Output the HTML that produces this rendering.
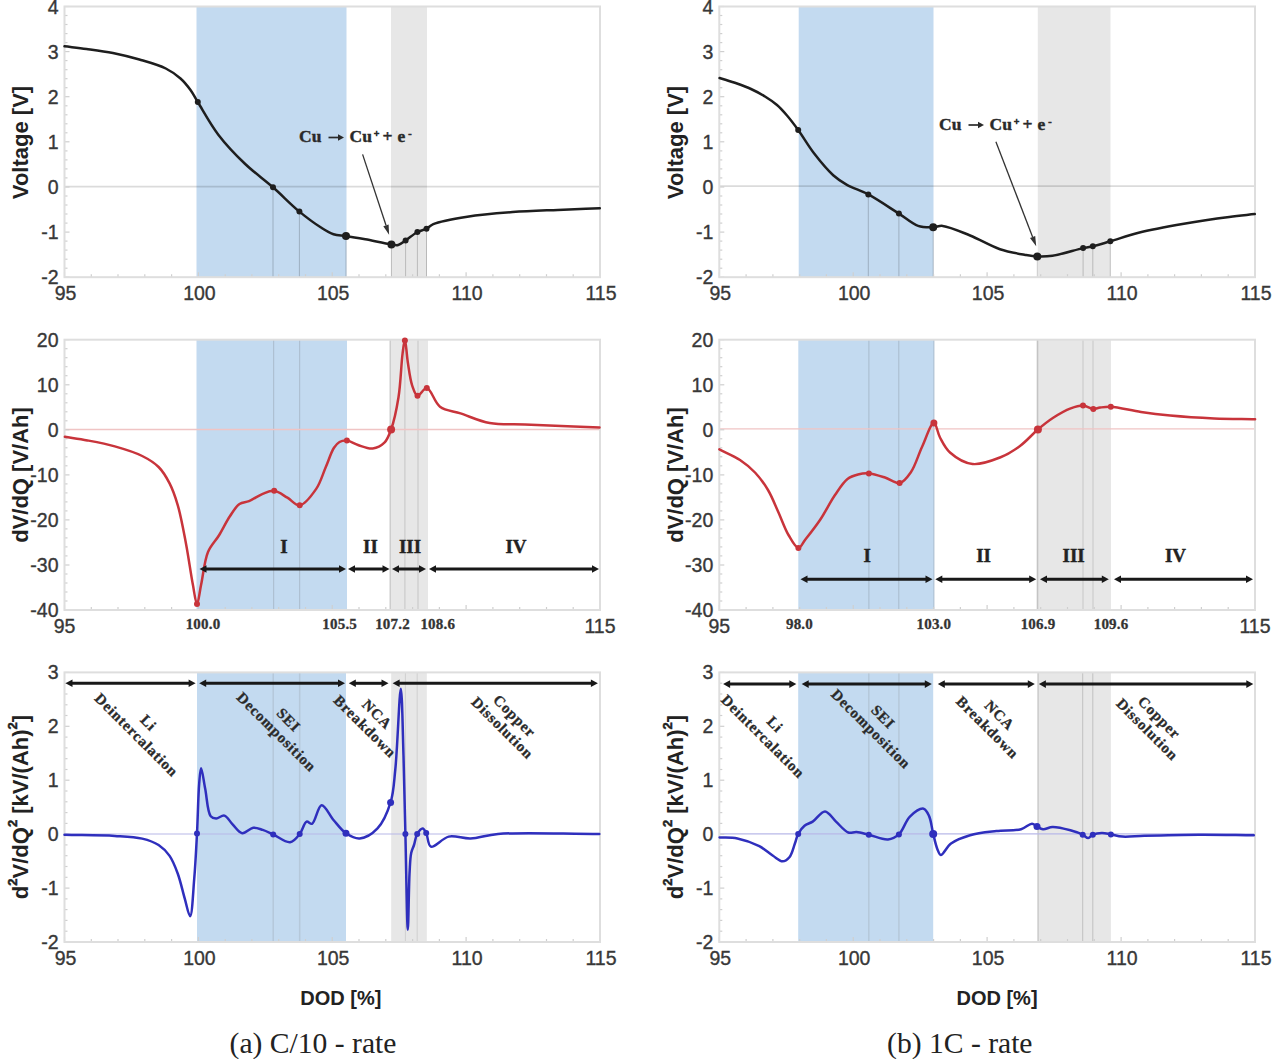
<!DOCTYPE html>
<html><head><meta charset="utf-8"><title>Figure</title><style>
html,body{margin:0;padding:0;background:#fff;}
svg{display:block;}
.tl{font-family:"Liberation Sans",sans-serif;font-size:19.5px;fill:#383838;stroke:#383838;stroke-width:0.35px;}
.yl{font-family:"Liberation Sans",sans-serif;font-size:22px;font-weight:bold;fill:#222;}
.xl{font-family:"Liberation Sans",sans-serif;font-size:20px;font-weight:bold;fill:#222;}
.cap{font-family:"Liberation Serif",serif;font-size:29.6px;fill:#222;}
.rn{font-family:"Liberation Serif",serif;font-size:19px;font-weight:bold;fill:#222;stroke:#222;stroke-width:0.4px;}
.bl{font-family:"Liberation Serif",serif;font-size:15px;font-weight:bold;fill:#333;stroke:#333;stroke-width:0.3px;letter-spacing:0.2px;}
.dg{font-family:"Liberation Serif",serif;font-size:15px;font-weight:bold;fill:#2a2a2a;stroke:#2a2a2a;stroke-width:0.3px;letter-spacing:0.8px;}
.cu{font-family:"Liberation Serif",serif;font-size:17.5px;font-weight:bold;fill:#2a2a2a;stroke:#2a2a2a;stroke-width:0.4px;}
.cus{font-family:"Liberation Serif",serif;font-size:10px;font-weight:bold;fill:#2a2a2a;stroke:#2a2a2a;stroke-width:0.6px;}
</style></head>
<body><svg width="1280" height="1059" viewBox="0 0 1280 1059">
<defs><filter id="bl" x="0" y="0" width="1280" height="1059" filterUnits="userSpaceOnUse"><feGaussianBlur stdDeviation="0.9"/></filter></defs>
<rect width="1280" height="1059" fill="#fff"/>
<g>
<rect x="196.5" y="6.5" width="150.0" height="270.7" fill="#c3daf0"/>
<rect x="391.0" y="6.5" width="36.0" height="270.7" fill="#e7e7e7"/>
<line x1="64.5" y1="186.6" x2="600.0" y2="186.6" stroke="#000" stroke-width="1.8" stroke-opacity="0.14"/>
<line x1="273.0" y1="187.0" x2="273.0" y2="277.0" stroke="#000" stroke-width="0.9" stroke-opacity="0.22"/>
<line x1="299.4" y1="211.6" x2="299.4" y2="277.0" stroke="#000" stroke-width="0.9" stroke-opacity="0.22"/>
<line x1="346.0" y1="236.0" x2="346.0" y2="277.0" stroke="#000" stroke-width="0.9" stroke-opacity="0.22"/>
<line x1="391.4" y1="244.5" x2="391.4" y2="277.0" stroke="#000" stroke-width="0.9" stroke-opacity="0.22"/>
<line x1="405.6" y1="240.5" x2="405.6" y2="277.0" stroke="#000" stroke-width="0.9" stroke-opacity="0.22"/>
<line x1="417.4" y1="232.0" x2="417.4" y2="277.0" stroke="#000" stroke-width="0.9" stroke-opacity="0.22"/>
<line x1="426.5" y1="228.7" x2="426.5" y2="277.0" stroke="#000" stroke-width="0.9" stroke-opacity="0.22"/>
<line x1="64.5" y1="6.5" x2="69.5" y2="6.5" stroke="#cfcfcf" stroke-width="1.2"/>
<line x1="64.5" y1="15.5" x2="67.5" y2="15.5" stroke="#cfcfcf" stroke-width="1.2"/>
<line x1="64.5" y1="24.5" x2="67.5" y2="24.5" stroke="#cfcfcf" stroke-width="1.2"/>
<line x1="64.5" y1="33.6" x2="67.5" y2="33.6" stroke="#cfcfcf" stroke-width="1.2"/>
<line x1="64.5" y1="42.6" x2="67.5" y2="42.6" stroke="#cfcfcf" stroke-width="1.2"/>
<line x1="64.5" y1="51.6" x2="69.5" y2="51.6" stroke="#cfcfcf" stroke-width="1.2"/>
<line x1="64.5" y1="60.6" x2="67.5" y2="60.6" stroke="#cfcfcf" stroke-width="1.2"/>
<line x1="64.5" y1="69.7" x2="67.5" y2="69.7" stroke="#cfcfcf" stroke-width="1.2"/>
<line x1="64.5" y1="78.7" x2="67.5" y2="78.7" stroke="#cfcfcf" stroke-width="1.2"/>
<line x1="64.5" y1="87.7" x2="67.5" y2="87.7" stroke="#cfcfcf" stroke-width="1.2"/>
<line x1="64.5" y1="96.7" x2="69.5" y2="96.7" stroke="#cfcfcf" stroke-width="1.2"/>
<line x1="64.5" y1="105.8" x2="67.5" y2="105.8" stroke="#cfcfcf" stroke-width="1.2"/>
<line x1="64.5" y1="114.8" x2="67.5" y2="114.8" stroke="#cfcfcf" stroke-width="1.2"/>
<line x1="64.5" y1="123.8" x2="67.5" y2="123.8" stroke="#cfcfcf" stroke-width="1.2"/>
<line x1="64.5" y1="132.8" x2="67.5" y2="132.8" stroke="#cfcfcf" stroke-width="1.2"/>
<line x1="64.5" y1="141.8" x2="69.5" y2="141.8" stroke="#cfcfcf" stroke-width="1.2"/>
<line x1="64.5" y1="150.9" x2="67.5" y2="150.9" stroke="#cfcfcf" stroke-width="1.2"/>
<line x1="64.5" y1="159.9" x2="67.5" y2="159.9" stroke="#cfcfcf" stroke-width="1.2"/>
<line x1="64.5" y1="168.9" x2="67.5" y2="168.9" stroke="#cfcfcf" stroke-width="1.2"/>
<line x1="64.5" y1="177.9" x2="67.5" y2="177.9" stroke="#cfcfcf" stroke-width="1.2"/>
<line x1="64.5" y1="187.0" x2="69.5" y2="187.0" stroke="#cfcfcf" stroke-width="1.2"/>
<line x1="64.5" y1="196.0" x2="67.5" y2="196.0" stroke="#cfcfcf" stroke-width="1.2"/>
<line x1="64.5" y1="205.0" x2="67.5" y2="205.0" stroke="#cfcfcf" stroke-width="1.2"/>
<line x1="64.5" y1="214.0" x2="67.5" y2="214.0" stroke="#cfcfcf" stroke-width="1.2"/>
<line x1="64.5" y1="223.1" x2="67.5" y2="223.1" stroke="#cfcfcf" stroke-width="1.2"/>
<line x1="64.5" y1="232.1" x2="69.5" y2="232.1" stroke="#cfcfcf" stroke-width="1.2"/>
<line x1="64.5" y1="241.1" x2="67.5" y2="241.1" stroke="#cfcfcf" stroke-width="1.2"/>
<line x1="64.5" y1="250.1" x2="67.5" y2="250.1" stroke="#cfcfcf" stroke-width="1.2"/>
<line x1="64.5" y1="259.2" x2="67.5" y2="259.2" stroke="#cfcfcf" stroke-width="1.2"/>
<line x1="64.5" y1="268.2" x2="67.5" y2="268.2" stroke="#cfcfcf" stroke-width="1.2"/>
<line x1="64.5" y1="277.2" x2="69.5" y2="277.2" stroke="#cfcfcf" stroke-width="1.2"/>
<line x1="64.5" y1="277.2" x2="64.5" y2="272.2" stroke="#cfcfcf" stroke-width="1.2"/>
<line x1="91.3" y1="277.2" x2="91.3" y2="274.2" stroke="#cfcfcf" stroke-width="1.2"/>
<line x1="118.0" y1="277.2" x2="118.0" y2="274.2" stroke="#cfcfcf" stroke-width="1.2"/>
<line x1="144.8" y1="277.2" x2="144.8" y2="274.2" stroke="#cfcfcf" stroke-width="1.2"/>
<line x1="171.6" y1="277.2" x2="171.6" y2="274.2" stroke="#cfcfcf" stroke-width="1.2"/>
<line x1="198.4" y1="277.2" x2="198.4" y2="272.2" stroke="#cfcfcf" stroke-width="1.2"/>
<line x1="225.2" y1="277.2" x2="225.2" y2="274.2" stroke="#cfcfcf" stroke-width="1.2"/>
<line x1="251.9" y1="277.2" x2="251.9" y2="274.2" stroke="#cfcfcf" stroke-width="1.2"/>
<line x1="278.7" y1="277.2" x2="278.7" y2="274.2" stroke="#cfcfcf" stroke-width="1.2"/>
<line x1="305.5" y1="277.2" x2="305.5" y2="274.2" stroke="#cfcfcf" stroke-width="1.2"/>
<line x1="332.2" y1="277.2" x2="332.2" y2="272.2" stroke="#cfcfcf" stroke-width="1.2"/>
<line x1="359.0" y1="277.2" x2="359.0" y2="274.2" stroke="#cfcfcf" stroke-width="1.2"/>
<line x1="385.8" y1="277.2" x2="385.8" y2="274.2" stroke="#cfcfcf" stroke-width="1.2"/>
<line x1="412.6" y1="277.2" x2="412.6" y2="274.2" stroke="#cfcfcf" stroke-width="1.2"/>
<line x1="439.4" y1="277.2" x2="439.4" y2="274.2" stroke="#cfcfcf" stroke-width="1.2"/>
<line x1="466.1" y1="277.2" x2="466.1" y2="272.2" stroke="#cfcfcf" stroke-width="1.2"/>
<line x1="492.9" y1="277.2" x2="492.9" y2="274.2" stroke="#cfcfcf" stroke-width="1.2"/>
<line x1="519.7" y1="277.2" x2="519.7" y2="274.2" stroke="#cfcfcf" stroke-width="1.2"/>
<line x1="546.5" y1="277.2" x2="546.5" y2="274.2" stroke="#cfcfcf" stroke-width="1.2"/>
<line x1="573.2" y1="277.2" x2="573.2" y2="274.2" stroke="#cfcfcf" stroke-width="1.2"/>
<line x1="600.0" y1="277.2" x2="600.0" y2="272.2" stroke="#cfcfcf" stroke-width="1.2"/>
<rect x="64.5" y="6.5" width="535.5" height="270.7" fill="none" stroke="#dedede" stroke-width="2"/>
<path d="M64.50,46.30 C71.83,47.17 78.84,47.87 86.50,48.90 C94.91,50.03 104.13,51.15 112.90,52.90 C121.77,54.67 130.63,56.92 139.40,59.50 C148.26,62.11 158.48,64.85 165.80,68.50 C171.64,71.42 176.27,74.75 180.50,78.50 C184.41,81.97 187.57,86.00 190.50,90.00 C193.31,93.84 194.72,97.03 197.80,102.00 C202.92,110.27 210.64,124.60 218.50,134.90 C226.42,145.28 235.91,155.11 245.20,164.00 C254.11,172.52 263.94,179.34 273.00,187.30 C282.01,195.21 290.85,204.56 299.40,211.60 C306.79,217.69 314.65,223.49 321.00,227.50 C325.62,230.42 329.20,232.81 333.50,234.20 C337.55,235.51 341.39,235.18 346.00,235.90 C351.75,236.80 358.39,238.00 365.30,239.30 C373.35,240.81 385.50,243.70 391.40,244.50 C394.38,244.91 395.97,245.54 398.20,245.00 C400.71,244.39 402.89,242.30 405.60,240.50 C409.12,238.17 413.59,234.02 417.40,232.00 C420.51,230.36 423.76,230.09 426.50,228.70 C429.02,227.42 429.97,225.52 433.30,224.10 C440.15,221.17 455.10,218.64 467.30,216.70 C481.26,214.48 497.49,213.23 512.60,212.10 C527.69,210.97 543.09,210.54 557.90,209.90 C572.14,209.28 585.83,208.83 599.80,208.30" fill="none" stroke="#1e1e1e" stroke-width="2.5" stroke-linejoin="round" stroke-linecap="round"/>
<circle cx="197.8" cy="102.0" r="3" fill="#1e1e1e"/>
<circle cx="273.0" cy="187.3" r="3" fill="#1e1e1e"/>
<circle cx="299.4" cy="211.6" r="3" fill="#1e1e1e"/>
<circle cx="346.0" cy="235.9" r="4" fill="#1e1e1e"/>
<circle cx="391.4" cy="244.5" r="4" fill="#1e1e1e"/>
<circle cx="405.6" cy="240.5" r="3" fill="#1e1e1e"/>
<circle cx="417.4" cy="232.0" r="3" fill="#1e1e1e"/>
<circle cx="426.5" cy="228.7" r="3" fill="#1e1e1e"/>
<text x="58.5" y="13.5" class="tl" text-anchor="end">4</text>
<text x="58.5" y="58.6" class="tl" text-anchor="end">3</text>
<text x="58.5" y="103.7" class="tl" text-anchor="end">2</text>
<text x="58.5" y="148.8" class="tl" text-anchor="end">1</text>
<text x="58.5" y="194.0" class="tl" text-anchor="end">0</text>
<text x="58.5" y="239.1" class="tl" text-anchor="end">-1</text>
<text x="58.5" y="284.2" class="tl" text-anchor="end">-2</text>
<text x="65.5" y="300.2" class="tl" text-anchor="middle">95</text>
<text x="199.4" y="300.2" class="tl" text-anchor="middle">100</text>
<text x="333.2" y="300.2" class="tl" text-anchor="middle">105</text>
<text x="467.1" y="300.2" class="tl" text-anchor="middle">110</text>
<text x="601.0" y="300.2" class="tl" text-anchor="middle">115</text>
<rect x="798.7" y="6.5" width="134.8" height="270.7" fill="#c3daf0"/>
<rect x="1037.8" y="6.5" width="72.7" height="270.7" fill="#e7e7e7"/>
<line x1="719.3" y1="186.2" x2="1255.0" y2="186.2" stroke="#000" stroke-width="1.8" stroke-opacity="0.14"/>
<line x1="868.3" y1="194.4" x2="868.3" y2="277.0" stroke="#000" stroke-width="0.9" stroke-opacity="0.22"/>
<line x1="898.9" y1="213.6" x2="898.9" y2="277.0" stroke="#000" stroke-width="0.9" stroke-opacity="0.22"/>
<line x1="933.2" y1="227.3" x2="933.2" y2="277.0" stroke="#000" stroke-width="0.9" stroke-opacity="0.22"/>
<line x1="1037.3" y1="256.5" x2="1037.3" y2="277.0" stroke="#000" stroke-width="0.9" stroke-opacity="0.22"/>
<line x1="1083.1" y1="248.1" x2="1083.1" y2="277.0" stroke="#000" stroke-width="0.9" stroke-opacity="0.22"/>
<line x1="1092.8" y1="246.3" x2="1092.8" y2="277.0" stroke="#000" stroke-width="0.9" stroke-opacity="0.22"/>
<line x1="1110.3" y1="241.3" x2="1110.3" y2="277.0" stroke="#000" stroke-width="0.9" stroke-opacity="0.22"/>
<line x1="719.3" y1="6.5" x2="724.3" y2="6.5" stroke="#cfcfcf" stroke-width="1.2"/>
<line x1="719.3" y1="15.5" x2="722.3" y2="15.5" stroke="#cfcfcf" stroke-width="1.2"/>
<line x1="719.3" y1="24.5" x2="722.3" y2="24.5" stroke="#cfcfcf" stroke-width="1.2"/>
<line x1="719.3" y1="33.6" x2="722.3" y2="33.6" stroke="#cfcfcf" stroke-width="1.2"/>
<line x1="719.3" y1="42.6" x2="722.3" y2="42.6" stroke="#cfcfcf" stroke-width="1.2"/>
<line x1="719.3" y1="51.6" x2="724.3" y2="51.6" stroke="#cfcfcf" stroke-width="1.2"/>
<line x1="719.3" y1="60.6" x2="722.3" y2="60.6" stroke="#cfcfcf" stroke-width="1.2"/>
<line x1="719.3" y1="69.7" x2="722.3" y2="69.7" stroke="#cfcfcf" stroke-width="1.2"/>
<line x1="719.3" y1="78.7" x2="722.3" y2="78.7" stroke="#cfcfcf" stroke-width="1.2"/>
<line x1="719.3" y1="87.7" x2="722.3" y2="87.7" stroke="#cfcfcf" stroke-width="1.2"/>
<line x1="719.3" y1="96.7" x2="724.3" y2="96.7" stroke="#cfcfcf" stroke-width="1.2"/>
<line x1="719.3" y1="105.8" x2="722.3" y2="105.8" stroke="#cfcfcf" stroke-width="1.2"/>
<line x1="719.3" y1="114.8" x2="722.3" y2="114.8" stroke="#cfcfcf" stroke-width="1.2"/>
<line x1="719.3" y1="123.8" x2="722.3" y2="123.8" stroke="#cfcfcf" stroke-width="1.2"/>
<line x1="719.3" y1="132.8" x2="722.3" y2="132.8" stroke="#cfcfcf" stroke-width="1.2"/>
<line x1="719.3" y1="141.8" x2="724.3" y2="141.8" stroke="#cfcfcf" stroke-width="1.2"/>
<line x1="719.3" y1="150.9" x2="722.3" y2="150.9" stroke="#cfcfcf" stroke-width="1.2"/>
<line x1="719.3" y1="159.9" x2="722.3" y2="159.9" stroke="#cfcfcf" stroke-width="1.2"/>
<line x1="719.3" y1="168.9" x2="722.3" y2="168.9" stroke="#cfcfcf" stroke-width="1.2"/>
<line x1="719.3" y1="177.9" x2="722.3" y2="177.9" stroke="#cfcfcf" stroke-width="1.2"/>
<line x1="719.3" y1="187.0" x2="724.3" y2="187.0" stroke="#cfcfcf" stroke-width="1.2"/>
<line x1="719.3" y1="196.0" x2="722.3" y2="196.0" stroke="#cfcfcf" stroke-width="1.2"/>
<line x1="719.3" y1="205.0" x2="722.3" y2="205.0" stroke="#cfcfcf" stroke-width="1.2"/>
<line x1="719.3" y1="214.0" x2="722.3" y2="214.0" stroke="#cfcfcf" stroke-width="1.2"/>
<line x1="719.3" y1="223.1" x2="722.3" y2="223.1" stroke="#cfcfcf" stroke-width="1.2"/>
<line x1="719.3" y1="232.1" x2="724.3" y2="232.1" stroke="#cfcfcf" stroke-width="1.2"/>
<line x1="719.3" y1="241.1" x2="722.3" y2="241.1" stroke="#cfcfcf" stroke-width="1.2"/>
<line x1="719.3" y1="250.1" x2="722.3" y2="250.1" stroke="#cfcfcf" stroke-width="1.2"/>
<line x1="719.3" y1="259.2" x2="722.3" y2="259.2" stroke="#cfcfcf" stroke-width="1.2"/>
<line x1="719.3" y1="268.2" x2="722.3" y2="268.2" stroke="#cfcfcf" stroke-width="1.2"/>
<line x1="719.3" y1="277.2" x2="724.3" y2="277.2" stroke="#cfcfcf" stroke-width="1.2"/>
<line x1="719.3" y1="277.2" x2="719.3" y2="272.2" stroke="#cfcfcf" stroke-width="1.2"/>
<line x1="746.1" y1="277.2" x2="746.1" y2="274.2" stroke="#cfcfcf" stroke-width="1.2"/>
<line x1="772.9" y1="277.2" x2="772.9" y2="274.2" stroke="#cfcfcf" stroke-width="1.2"/>
<line x1="799.7" y1="277.2" x2="799.7" y2="274.2" stroke="#cfcfcf" stroke-width="1.2"/>
<line x1="826.4" y1="277.2" x2="826.4" y2="274.2" stroke="#cfcfcf" stroke-width="1.2"/>
<line x1="853.2" y1="277.2" x2="853.2" y2="272.2" stroke="#cfcfcf" stroke-width="1.2"/>
<line x1="880.0" y1="277.2" x2="880.0" y2="274.2" stroke="#cfcfcf" stroke-width="1.2"/>
<line x1="906.8" y1="277.2" x2="906.8" y2="274.2" stroke="#cfcfcf" stroke-width="1.2"/>
<line x1="933.6" y1="277.2" x2="933.6" y2="274.2" stroke="#cfcfcf" stroke-width="1.2"/>
<line x1="960.4" y1="277.2" x2="960.4" y2="274.2" stroke="#cfcfcf" stroke-width="1.2"/>
<line x1="987.1" y1="277.2" x2="987.1" y2="272.2" stroke="#cfcfcf" stroke-width="1.2"/>
<line x1="1013.9" y1="277.2" x2="1013.9" y2="274.2" stroke="#cfcfcf" stroke-width="1.2"/>
<line x1="1040.7" y1="277.2" x2="1040.7" y2="274.2" stroke="#cfcfcf" stroke-width="1.2"/>
<line x1="1067.5" y1="277.2" x2="1067.5" y2="274.2" stroke="#cfcfcf" stroke-width="1.2"/>
<line x1="1094.3" y1="277.2" x2="1094.3" y2="274.2" stroke="#cfcfcf" stroke-width="1.2"/>
<line x1="1121.1" y1="277.2" x2="1121.1" y2="272.2" stroke="#cfcfcf" stroke-width="1.2"/>
<line x1="1147.9" y1="277.2" x2="1147.9" y2="274.2" stroke="#cfcfcf" stroke-width="1.2"/>
<line x1="1174.6" y1="277.2" x2="1174.6" y2="274.2" stroke="#cfcfcf" stroke-width="1.2"/>
<line x1="1201.4" y1="277.2" x2="1201.4" y2="274.2" stroke="#cfcfcf" stroke-width="1.2"/>
<line x1="1228.2" y1="277.2" x2="1228.2" y2="274.2" stroke="#cfcfcf" stroke-width="1.2"/>
<line x1="1255.0" y1="277.2" x2="1255.0" y2="272.2" stroke="#cfcfcf" stroke-width="1.2"/>
<rect x="719.3" y="6.5" width="535.7" height="270.7" fill="none" stroke="#dedede" stroke-width="2"/>
<path d="M719.60,78.00 C725.40,79.83 731.55,81.57 737.00,83.50 C741.95,85.25 746.40,86.87 751.00,89.00 C755.73,91.19 760.59,93.77 765.00,96.50 C769.24,99.12 773.32,101.82 777.00,105.00 C780.65,108.16 783.67,111.62 787.00,115.50 C790.74,119.86 794.24,124.53 798.20,130.00 C803.11,136.78 808.22,145.83 814.00,153.30 C819.87,160.90 827.01,169.65 833.20,175.20 C837.89,179.41 841.67,181.83 846.90,184.80 C853.10,188.32 860.68,190.33 868.30,194.40 C877.75,199.46 889.90,207.89 898.90,213.60 C906.05,218.14 911.83,223.74 918.10,225.90 C923.22,227.66 928.75,227.42 933.20,227.30 C936.74,227.20 938.77,225.52 942.70,225.90 C949.53,226.55 960.85,231.77 970.10,235.50 C979.94,239.47 990.28,245.92 1000.00,249.20 C1008.63,252.11 1018.40,253.67 1025.30,254.90 C1030.02,255.74 1033.06,256.32 1037.30,256.50 C1042.06,256.71 1046.61,256.67 1052.50,255.80 C1060.99,254.55 1075.73,249.71 1083.10,248.10 C1087.22,247.20 1089.12,247.17 1092.80,246.30 C1097.80,245.12 1103.78,243.22 1110.30,241.30 C1118.61,238.85 1127.99,235.36 1138.60,232.70 C1151.86,229.38 1168.77,226.34 1183.90,223.70 C1198.97,221.07 1216.23,218.58 1229.20,216.90 C1238.93,215.64 1246.27,215.03 1254.80,214.10" fill="none" stroke="#1e1e1e" stroke-width="2.5" stroke-linejoin="round" stroke-linecap="round"/>
<circle cx="798.2" cy="130.0" r="3" fill="#1e1e1e"/>
<circle cx="868.3" cy="194.4" r="3" fill="#1e1e1e"/>
<circle cx="898.9" cy="213.6" r="3" fill="#1e1e1e"/>
<circle cx="933.2" cy="227.3" r="4" fill="#1e1e1e"/>
<circle cx="1037.3" cy="256.5" r="4" fill="#1e1e1e"/>
<circle cx="1083.1" cy="248.1" r="3" fill="#1e1e1e"/>
<circle cx="1092.8" cy="246.3" r="3" fill="#1e1e1e"/>
<circle cx="1110.3" cy="241.3" r="3" fill="#1e1e1e"/>
<text x="713.3" y="13.5" class="tl" text-anchor="end">4</text>
<text x="713.3" y="58.6" class="tl" text-anchor="end">3</text>
<text x="713.3" y="103.7" class="tl" text-anchor="end">2</text>
<text x="713.3" y="148.8" class="tl" text-anchor="end">1</text>
<text x="713.3" y="194.0" class="tl" text-anchor="end">0</text>
<text x="713.3" y="239.1" class="tl" text-anchor="end">-1</text>
<text x="713.3" y="284.2" class="tl" text-anchor="end">-2</text>
<text x="720.3" y="300.2" class="tl" text-anchor="middle">95</text>
<text x="854.2" y="300.2" class="tl" text-anchor="middle">100</text>
<text x="988.1" y="300.2" class="tl" text-anchor="middle">105</text>
<text x="1122.1" y="300.2" class="tl" text-anchor="middle">110</text>
<text x="1256.0" y="300.2" class="tl" text-anchor="middle">115</text>
<text x="299.0" y="142.0" class="cu">Cu</text>
<line x1="328.5" y1="137.5" x2="339.5" y2="137.5" stroke="#2a2a2a" stroke-width="1.7"/>
<path d="M344.0,137.5 L338.0,134.2 L338.0,140.8 Z" fill="#2a2a2a"/>
<text x="349.5" y="142.0" class="cu">Cu</text>
<text x="376.5" y="137.0" class="cus" text-anchor="middle">+</text>
<text x="387.5" y="142.0" class="cu" text-anchor="middle">+</text>
<text x="397.5" y="142.0" class="cu">e</text>
<text x="410.0" y="137.0" class="cus" text-anchor="middle">-</text>
<text x="939.0" y="129.5" class="cu">Cu</text>
<line x1="968.5" y1="125.0" x2="979.5" y2="125.0" stroke="#2a2a2a" stroke-width="1.7"/>
<path d="M984.0,125.0 L978.0,121.7 L978.0,128.3 Z" fill="#2a2a2a"/>
<text x="989.5" y="129.5" class="cu">Cu</text>
<text x="1016.5" y="124.5" class="cus" text-anchor="middle">+</text>
<text x="1027.5" y="129.5" class="cu" text-anchor="middle">+</text>
<text x="1037.5" y="129.5" class="cu">e</text>
<text x="1050.0" y="124.5" class="cus" text-anchor="middle">-</text>
<line x1="362.6" y1="154.4" x2="386.0" y2="225.3" stroke="#333" stroke-width="1.3"/><path d="M389.1,234.8 L383.3,226.2 L388.6,224.4 Z" fill="#333"/>
<line x1="995.9" y1="141.7" x2="1032.6" y2="237.0" stroke="#333" stroke-width="1.3"/><path d="M1036.2,246.3 L1030.0,238.0 L1035.2,236.0 Z" fill="#333"/>
<rect x="196.5" y="339.7" width="150.5" height="270.3" fill="#c3daf0"/>
<rect x="390.0" y="339.7" width="38.0" height="270.3" fill="#e7e7e7"/>
<line x1="273.7" y1="340.0" x2="273.7" y2="610.0" stroke="#a9bbcc" stroke-width="1"/>
<line x1="299.7" y1="340.0" x2="299.7" y2="610.0" stroke="#a9bbcc" stroke-width="1"/>
<line x1="390.2" y1="340.0" x2="390.2" y2="610.0" stroke="#c8c8c8" stroke-width="1.3"/>
<line x1="404.9" y1="340.0" x2="404.9" y2="610.0" stroke="#cbcbcb" stroke-width="1.2"/>
<line x1="418.0" y1="340.0" x2="418.0" y2="610.0" stroke="#cbcbcb" stroke-width="1.2"/>
<line x1="64.5" y1="429.5" x2="600.0" y2="429.5" stroke="#f0c4c4" stroke-width="1.3"/>
<line x1="64.5" y1="339.7" x2="69.5" y2="339.7" stroke="#cfcfcf" stroke-width="1.2"/>
<line x1="64.5" y1="348.7" x2="67.5" y2="348.7" stroke="#cfcfcf" stroke-width="1.2"/>
<line x1="64.5" y1="357.7" x2="67.5" y2="357.7" stroke="#cfcfcf" stroke-width="1.2"/>
<line x1="64.5" y1="366.7" x2="67.5" y2="366.7" stroke="#cfcfcf" stroke-width="1.2"/>
<line x1="64.5" y1="375.7" x2="67.5" y2="375.7" stroke="#cfcfcf" stroke-width="1.2"/>
<line x1="64.5" y1="384.8" x2="69.5" y2="384.8" stroke="#cfcfcf" stroke-width="1.2"/>
<line x1="64.5" y1="393.8" x2="67.5" y2="393.8" stroke="#cfcfcf" stroke-width="1.2"/>
<line x1="64.5" y1="402.8" x2="67.5" y2="402.8" stroke="#cfcfcf" stroke-width="1.2"/>
<line x1="64.5" y1="411.8" x2="67.5" y2="411.8" stroke="#cfcfcf" stroke-width="1.2"/>
<line x1="64.5" y1="420.8" x2="67.5" y2="420.8" stroke="#cfcfcf" stroke-width="1.2"/>
<line x1="64.5" y1="429.8" x2="69.5" y2="429.8" stroke="#cfcfcf" stroke-width="1.2"/>
<line x1="64.5" y1="438.8" x2="67.5" y2="438.8" stroke="#cfcfcf" stroke-width="1.2"/>
<line x1="64.5" y1="447.8" x2="67.5" y2="447.8" stroke="#cfcfcf" stroke-width="1.2"/>
<line x1="64.5" y1="456.8" x2="67.5" y2="456.8" stroke="#cfcfcf" stroke-width="1.2"/>
<line x1="64.5" y1="465.8" x2="67.5" y2="465.8" stroke="#cfcfcf" stroke-width="1.2"/>
<line x1="64.5" y1="474.9" x2="69.5" y2="474.9" stroke="#cfcfcf" stroke-width="1.2"/>
<line x1="64.5" y1="483.9" x2="67.5" y2="483.9" stroke="#cfcfcf" stroke-width="1.2"/>
<line x1="64.5" y1="492.9" x2="67.5" y2="492.9" stroke="#cfcfcf" stroke-width="1.2"/>
<line x1="64.5" y1="501.9" x2="67.5" y2="501.9" stroke="#cfcfcf" stroke-width="1.2"/>
<line x1="64.5" y1="510.9" x2="67.5" y2="510.9" stroke="#cfcfcf" stroke-width="1.2"/>
<line x1="64.5" y1="519.9" x2="69.5" y2="519.9" stroke="#cfcfcf" stroke-width="1.2"/>
<line x1="64.5" y1="528.9" x2="67.5" y2="528.9" stroke="#cfcfcf" stroke-width="1.2"/>
<line x1="64.5" y1="537.9" x2="67.5" y2="537.9" stroke="#cfcfcf" stroke-width="1.2"/>
<line x1="64.5" y1="546.9" x2="67.5" y2="546.9" stroke="#cfcfcf" stroke-width="1.2"/>
<line x1="64.5" y1="555.9" x2="67.5" y2="555.9" stroke="#cfcfcf" stroke-width="1.2"/>
<line x1="64.5" y1="565.0" x2="69.5" y2="565.0" stroke="#cfcfcf" stroke-width="1.2"/>
<line x1="64.5" y1="574.0" x2="67.5" y2="574.0" stroke="#cfcfcf" stroke-width="1.2"/>
<line x1="64.5" y1="583.0" x2="67.5" y2="583.0" stroke="#cfcfcf" stroke-width="1.2"/>
<line x1="64.5" y1="592.0" x2="67.5" y2="592.0" stroke="#cfcfcf" stroke-width="1.2"/>
<line x1="64.5" y1="601.0" x2="67.5" y2="601.0" stroke="#cfcfcf" stroke-width="1.2"/>
<line x1="64.5" y1="610.0" x2="69.5" y2="610.0" stroke="#cfcfcf" stroke-width="1.2"/>
<line x1="64.5" y1="610.0" x2="64.5" y2="605.0" stroke="#cfcfcf" stroke-width="1.2"/>
<line x1="91.3" y1="610.0" x2="91.3" y2="607.0" stroke="#cfcfcf" stroke-width="1.2"/>
<line x1="118.0" y1="610.0" x2="118.0" y2="607.0" stroke="#cfcfcf" stroke-width="1.2"/>
<line x1="144.8" y1="610.0" x2="144.8" y2="607.0" stroke="#cfcfcf" stroke-width="1.2"/>
<line x1="171.6" y1="610.0" x2="171.6" y2="607.0" stroke="#cfcfcf" stroke-width="1.2"/>
<line x1="198.4" y1="610.0" x2="198.4" y2="605.0" stroke="#cfcfcf" stroke-width="1.2"/>
<line x1="225.2" y1="610.0" x2="225.2" y2="607.0" stroke="#cfcfcf" stroke-width="1.2"/>
<line x1="251.9" y1="610.0" x2="251.9" y2="607.0" stroke="#cfcfcf" stroke-width="1.2"/>
<line x1="278.7" y1="610.0" x2="278.7" y2="607.0" stroke="#cfcfcf" stroke-width="1.2"/>
<line x1="305.5" y1="610.0" x2="305.5" y2="607.0" stroke="#cfcfcf" stroke-width="1.2"/>
<line x1="332.2" y1="610.0" x2="332.2" y2="605.0" stroke="#cfcfcf" stroke-width="1.2"/>
<line x1="359.0" y1="610.0" x2="359.0" y2="607.0" stroke="#cfcfcf" stroke-width="1.2"/>
<line x1="385.8" y1="610.0" x2="385.8" y2="607.0" stroke="#cfcfcf" stroke-width="1.2"/>
<line x1="412.6" y1="610.0" x2="412.6" y2="607.0" stroke="#cfcfcf" stroke-width="1.2"/>
<line x1="439.4" y1="610.0" x2="439.4" y2="607.0" stroke="#cfcfcf" stroke-width="1.2"/>
<line x1="466.1" y1="610.0" x2="466.1" y2="605.0" stroke="#cfcfcf" stroke-width="1.2"/>
<line x1="492.9" y1="610.0" x2="492.9" y2="607.0" stroke="#cfcfcf" stroke-width="1.2"/>
<line x1="519.7" y1="610.0" x2="519.7" y2="607.0" stroke="#cfcfcf" stroke-width="1.2"/>
<line x1="546.5" y1="610.0" x2="546.5" y2="607.0" stroke="#cfcfcf" stroke-width="1.2"/>
<line x1="573.2" y1="610.0" x2="573.2" y2="607.0" stroke="#cfcfcf" stroke-width="1.2"/>
<line x1="600.0" y1="610.0" x2="600.0" y2="605.0" stroke="#cfcfcf" stroke-width="1.2"/>
<rect x="64.5" y="339.7" width="535.5" height="270.3" fill="none" stroke="#dedede" stroke-width="2"/>
<path d="M64.90,436.80 C72.40,438.00 79.55,438.91 87.40,440.40 C96.11,442.05 105.74,443.83 114.80,446.40 C124.01,449.01 134.44,452.12 142.20,456.00 C148.60,459.20 154.03,462.43 158.60,467.00 C163.17,471.57 166.49,477.34 169.60,483.40 C172.99,490.00 175.34,496.88 177.80,505.30 C180.99,516.21 183.51,530.65 186.00,543.70 C188.56,557.14 190.78,573.69 192.90,584.80 C194.35,592.42 195.63,604.00 197.00,604.00 C198.37,604.00 199.56,592.05 201.10,584.80 C203.11,575.32 204.33,560.80 208.00,552.00 C210.82,545.24 215.35,541.27 218.90,535.50 C222.66,529.40 226.15,521.88 229.90,516.30 C233.04,511.62 235.87,506.47 239.50,504.00 C242.39,502.03 245.62,502.59 249.00,501.20 C253.24,499.45 258.23,495.56 262.70,493.80 C266.61,492.26 270.32,490.36 274.20,490.80 C278.54,491.29 283.12,495.26 287.40,497.70 C291.62,500.10 295.50,505.78 299.70,505.30 C305.03,504.69 311.86,495.23 316.20,488.90 C320.60,482.48 322.74,474.07 325.80,467.00 C328.66,460.40 331.12,452.18 334.00,447.80 C335.78,445.09 337.31,443.20 339.50,442.00 C341.63,440.84 344.22,440.34 346.90,440.60 C350.27,440.92 353.99,443.74 358.00,445.00 C362.51,446.42 368.17,449.02 372.70,448.50 C376.92,448.02 381.37,445.70 384.40,442.70 C387.62,439.51 389.10,435.02 391.10,429.50 C394.09,421.26 396.63,408.93 398.50,397.30 C400.66,383.86 401.23,363.85 402.60,353.40 C403.37,347.56 404.14,339.79 404.90,339.80 C405.87,339.82 406.61,354.67 407.80,362.20 C409.03,369.93 410.10,379.52 412.20,385.60 C413.66,389.83 415.12,395.32 417.50,395.80 C419.95,396.29 423.66,387.59 426.80,388.00 C431.12,388.56 434.26,402.46 440.00,406.70 C445.57,410.81 453.07,410.95 460.50,413.40 C469.38,416.33 479.37,421.22 489.70,423.10 C500.75,425.11 510.99,423.94 524.90,424.50 C545.15,425.31 574.63,426.50 599.50,427.50" fill="none" stroke="#c8343b" stroke-width="2.5" stroke-linejoin="round" stroke-linecap="round"/>
<circle cx="197.0" cy="604.0" r="3" fill="#c8343b"/>
<circle cx="274.2" cy="490.8" r="3" fill="#c8343b"/>
<circle cx="299.7" cy="505.3" r="3" fill="#c8343b"/>
<circle cx="346.9" cy="440.6" r="3" fill="#c8343b"/>
<circle cx="391.1" cy="429.5" r="4" fill="#c8343b"/>
<circle cx="404.9" cy="340.5" r="3" fill="#c8343b"/>
<circle cx="417.5" cy="395.8" r="3" fill="#c8343b"/>
<circle cx="426.8" cy="388.0" r="3" fill="#c8343b"/>
<line x1="205.5" y1="569.0" x2="340.0" y2="569.0" stroke="#181818" stroke-width="3"/>
<path d="M199.5,569.0 L206.5,565.2 L206.5,572.8 Z" fill="#181818"/>
<path d="M346.0,569.0 L339.0,565.2 L339.0,572.8 Z" fill="#181818"/>
<line x1="354.0" y1="569.0" x2="383.5" y2="569.0" stroke="#181818" stroke-width="3"/>
<path d="M348.0,569.0 L355.0,565.2 L355.0,572.8 Z" fill="#181818"/>
<path d="M389.5,569.0 L382.5,565.2 L382.5,572.8 Z" fill="#181818"/>
<line x1="398.0" y1="569.0" x2="420.0" y2="569.0" stroke="#181818" stroke-width="3"/>
<path d="M392.0,569.0 L399.0,565.2 L399.0,572.8 Z" fill="#181818"/>
<path d="M426.0,569.0 L419.0,565.2 L419.0,572.8 Z" fill="#181818"/>
<line x1="435.0" y1="569.0" x2="593.0" y2="569.0" stroke="#181818" stroke-width="3"/>
<path d="M429.0,569.0 L436.0,565.2 L436.0,572.8 Z" fill="#181818"/>
<path d="M599.0,569.0 L592.0,565.2 L592.0,572.8 Z" fill="#181818"/>
<text x="284" y="553" class="rn" text-anchor="middle">I</text>
<text x="370.5" y="553" class="rn" text-anchor="middle">II</text>
<text x="410" y="553" class="rn" text-anchor="middle">III</text>
<text x="516" y="553" class="rn" text-anchor="middle">IV</text>
<text x="58.5" y="346.7" class="tl" text-anchor="end">20</text>
<text x="58.5" y="391.8" class="tl" text-anchor="end">10</text>
<text x="58.5" y="436.8" class="tl" text-anchor="end">0</text>
<text x="58.5" y="481.9" class="tl" text-anchor="end">-10</text>
<text x="58.5" y="526.9" class="tl" text-anchor="end">-20</text>
<text x="58.5" y="572.0" class="tl" text-anchor="end">-30</text>
<text x="58.5" y="617.0" class="tl" text-anchor="end">-40</text>
<text x="64.5" y="633" class="tl" text-anchor="middle">95</text>
<text x="600.0" y="633" class="tl" text-anchor="middle">115</text>
<text x="203.0" y="629" class="bl" text-anchor="middle">100.0</text>
<text x="339.7" y="629" class="bl" text-anchor="middle">105.5</text>
<text x="392.5" y="629" class="bl" text-anchor="middle">107.2</text>
<text x="437.8" y="629" class="bl" text-anchor="middle">108.6</text>
<rect x="798.3" y="339.7" width="135.6" height="270.3" fill="#c3daf0"/>
<rect x="1037.1" y="339.7" width="73.9" height="270.3" fill="#e7e7e7"/>
<line x1="868.9" y1="340.0" x2="868.9" y2="610.0" stroke="#a9bbcc" stroke-width="1"/>
<line x1="898.8" y1="340.0" x2="898.8" y2="610.0" stroke="#a9bbcc" stroke-width="1"/>
<line x1="933.9" y1="340.0" x2="933.9" y2="610.0" stroke="#a9bbcc" stroke-width="1"/>
<line x1="1037.5" y1="340.0" x2="1037.5" y2="610.0" stroke="#c4c4c4" stroke-width="1.6"/>
<line x1="1083.0" y1="340.0" x2="1083.0" y2="610.0" stroke="#cdcdcd" stroke-width="1.2"/>
<line x1="1093.0" y1="340.0" x2="1093.0" y2="610.0" stroke="#cdcdcd" stroke-width="1.2"/>
<line x1="719.3" y1="428.9" x2="1255.0" y2="428.9" stroke="#f0c4c4" stroke-width="1.3"/>
<line x1="719.3" y1="339.7" x2="724.3" y2="339.7" stroke="#cfcfcf" stroke-width="1.2"/>
<line x1="719.3" y1="348.7" x2="722.3" y2="348.7" stroke="#cfcfcf" stroke-width="1.2"/>
<line x1="719.3" y1="357.7" x2="722.3" y2="357.7" stroke="#cfcfcf" stroke-width="1.2"/>
<line x1="719.3" y1="366.7" x2="722.3" y2="366.7" stroke="#cfcfcf" stroke-width="1.2"/>
<line x1="719.3" y1="375.7" x2="722.3" y2="375.7" stroke="#cfcfcf" stroke-width="1.2"/>
<line x1="719.3" y1="384.8" x2="724.3" y2="384.8" stroke="#cfcfcf" stroke-width="1.2"/>
<line x1="719.3" y1="393.8" x2="722.3" y2="393.8" stroke="#cfcfcf" stroke-width="1.2"/>
<line x1="719.3" y1="402.8" x2="722.3" y2="402.8" stroke="#cfcfcf" stroke-width="1.2"/>
<line x1="719.3" y1="411.8" x2="722.3" y2="411.8" stroke="#cfcfcf" stroke-width="1.2"/>
<line x1="719.3" y1="420.8" x2="722.3" y2="420.8" stroke="#cfcfcf" stroke-width="1.2"/>
<line x1="719.3" y1="429.8" x2="724.3" y2="429.8" stroke="#cfcfcf" stroke-width="1.2"/>
<line x1="719.3" y1="438.8" x2="722.3" y2="438.8" stroke="#cfcfcf" stroke-width="1.2"/>
<line x1="719.3" y1="447.8" x2="722.3" y2="447.8" stroke="#cfcfcf" stroke-width="1.2"/>
<line x1="719.3" y1="456.8" x2="722.3" y2="456.8" stroke="#cfcfcf" stroke-width="1.2"/>
<line x1="719.3" y1="465.8" x2="722.3" y2="465.8" stroke="#cfcfcf" stroke-width="1.2"/>
<line x1="719.3" y1="474.9" x2="724.3" y2="474.9" stroke="#cfcfcf" stroke-width="1.2"/>
<line x1="719.3" y1="483.9" x2="722.3" y2="483.9" stroke="#cfcfcf" stroke-width="1.2"/>
<line x1="719.3" y1="492.9" x2="722.3" y2="492.9" stroke="#cfcfcf" stroke-width="1.2"/>
<line x1="719.3" y1="501.9" x2="722.3" y2="501.9" stroke="#cfcfcf" stroke-width="1.2"/>
<line x1="719.3" y1="510.9" x2="722.3" y2="510.9" stroke="#cfcfcf" stroke-width="1.2"/>
<line x1="719.3" y1="519.9" x2="724.3" y2="519.9" stroke="#cfcfcf" stroke-width="1.2"/>
<line x1="719.3" y1="528.9" x2="722.3" y2="528.9" stroke="#cfcfcf" stroke-width="1.2"/>
<line x1="719.3" y1="537.9" x2="722.3" y2="537.9" stroke="#cfcfcf" stroke-width="1.2"/>
<line x1="719.3" y1="546.9" x2="722.3" y2="546.9" stroke="#cfcfcf" stroke-width="1.2"/>
<line x1="719.3" y1="555.9" x2="722.3" y2="555.9" stroke="#cfcfcf" stroke-width="1.2"/>
<line x1="719.3" y1="565.0" x2="724.3" y2="565.0" stroke="#cfcfcf" stroke-width="1.2"/>
<line x1="719.3" y1="574.0" x2="722.3" y2="574.0" stroke="#cfcfcf" stroke-width="1.2"/>
<line x1="719.3" y1="583.0" x2="722.3" y2="583.0" stroke="#cfcfcf" stroke-width="1.2"/>
<line x1="719.3" y1="592.0" x2="722.3" y2="592.0" stroke="#cfcfcf" stroke-width="1.2"/>
<line x1="719.3" y1="601.0" x2="722.3" y2="601.0" stroke="#cfcfcf" stroke-width="1.2"/>
<line x1="719.3" y1="610.0" x2="724.3" y2="610.0" stroke="#cfcfcf" stroke-width="1.2"/>
<line x1="719.3" y1="610.0" x2="719.3" y2="605.0" stroke="#cfcfcf" stroke-width="1.2"/>
<line x1="746.1" y1="610.0" x2="746.1" y2="607.0" stroke="#cfcfcf" stroke-width="1.2"/>
<line x1="772.9" y1="610.0" x2="772.9" y2="607.0" stroke="#cfcfcf" stroke-width="1.2"/>
<line x1="799.7" y1="610.0" x2="799.7" y2="607.0" stroke="#cfcfcf" stroke-width="1.2"/>
<line x1="826.4" y1="610.0" x2="826.4" y2="607.0" stroke="#cfcfcf" stroke-width="1.2"/>
<line x1="853.2" y1="610.0" x2="853.2" y2="605.0" stroke="#cfcfcf" stroke-width="1.2"/>
<line x1="880.0" y1="610.0" x2="880.0" y2="607.0" stroke="#cfcfcf" stroke-width="1.2"/>
<line x1="906.8" y1="610.0" x2="906.8" y2="607.0" stroke="#cfcfcf" stroke-width="1.2"/>
<line x1="933.6" y1="610.0" x2="933.6" y2="607.0" stroke="#cfcfcf" stroke-width="1.2"/>
<line x1="960.4" y1="610.0" x2="960.4" y2="607.0" stroke="#cfcfcf" stroke-width="1.2"/>
<line x1="987.1" y1="610.0" x2="987.1" y2="605.0" stroke="#cfcfcf" stroke-width="1.2"/>
<line x1="1013.9" y1="610.0" x2="1013.9" y2="607.0" stroke="#cfcfcf" stroke-width="1.2"/>
<line x1="1040.7" y1="610.0" x2="1040.7" y2="607.0" stroke="#cfcfcf" stroke-width="1.2"/>
<line x1="1067.5" y1="610.0" x2="1067.5" y2="607.0" stroke="#cfcfcf" stroke-width="1.2"/>
<line x1="1094.3" y1="610.0" x2="1094.3" y2="607.0" stroke="#cfcfcf" stroke-width="1.2"/>
<line x1="1121.1" y1="610.0" x2="1121.1" y2="605.0" stroke="#cfcfcf" stroke-width="1.2"/>
<line x1="1147.9" y1="610.0" x2="1147.9" y2="607.0" stroke="#cfcfcf" stroke-width="1.2"/>
<line x1="1174.6" y1="610.0" x2="1174.6" y2="607.0" stroke="#cfcfcf" stroke-width="1.2"/>
<line x1="1201.4" y1="610.0" x2="1201.4" y2="607.0" stroke="#cfcfcf" stroke-width="1.2"/>
<line x1="1228.2" y1="610.0" x2="1228.2" y2="607.0" stroke="#cfcfcf" stroke-width="1.2"/>
<line x1="1255.0" y1="610.0" x2="1255.0" y2="605.0" stroke="#cfcfcf" stroke-width="1.2"/>
<rect x="719.3" y="339.7" width="535.7" height="270.3" fill="none" stroke="#dedede" stroke-width="2"/>
<path d="M719.40,449.40 C726.27,452.93 733.87,455.94 740.00,460.00 C745.62,463.72 750.44,467.67 755.00,472.50 C759.82,477.60 764.18,483.59 768.00,490.00 C772.08,496.84 775.08,504.98 778.50,512.50 C781.91,519.98 784.77,528.70 788.50,535.00 C791.54,540.13 795.40,547.94 798.40,548.00 C800.79,548.05 802.40,543.30 805.00,540.00 C809.04,534.87 815.18,527.17 820.00,520.00 C825.21,512.26 830.00,502.27 835.00,495.00 C839.17,488.93 843.05,482.43 847.50,479.00 C850.84,476.43 854.39,475.43 858.00,474.50 C861.53,473.59 864.94,473.11 868.90,473.40 C873.77,473.76 879.81,475.85 885.00,477.50 C890.03,479.10 895.28,483.99 899.60,483.10 C903.96,482.20 907.63,476.85 911.00,472.00 C915.41,465.64 918.16,455.19 922.00,447.00 C925.80,438.90 930.68,423.00 933.90,423.10 C936.37,423.18 937.45,432.77 940.00,437.50 C942.74,442.58 945.29,448.31 950.00,452.50 C955.57,457.46 964.43,463.03 972.50,464.00 C981.03,465.03 991.77,460.76 1000.00,457.50 C1007.43,454.56 1013.76,450.58 1020.00,446.00 C1026.41,441.29 1032.06,434.41 1037.90,429.50 C1043.10,425.13 1047.78,421.30 1053.20,417.80 C1058.70,414.25 1065.25,410.46 1070.70,408.40 C1075.05,406.75 1079.11,405.31 1083.00,405.50 C1086.61,405.67 1090.21,408.81 1093.30,409.00 C1095.75,409.15 1097.49,407.97 1100.00,407.60 C1103.16,407.14 1106.31,406.50 1110.80,406.70 C1118.35,407.04 1131.00,410.52 1141.00,412.00 C1150.80,413.45 1159.46,414.50 1170.20,415.50 C1183.33,416.72 1199.71,417.77 1214.10,418.40 C1227.99,419.01 1241.43,419.00 1255.10,419.30" fill="none" stroke="#c8343b" stroke-width="2.5" stroke-linejoin="round" stroke-linecap="round"/>
<circle cx="798.4" cy="548.0" r="3" fill="#c8343b"/>
<circle cx="868.9" cy="473.4" r="3" fill="#c8343b"/>
<circle cx="899.6" cy="483.1" r="3" fill="#c8343b"/>
<circle cx="933.9" cy="423.1" r="3.5" fill="#c8343b"/>
<circle cx="1037.9" cy="429.5" r="4" fill="#c8343b"/>
<circle cx="1083.0" cy="405.5" r="3" fill="#c8343b"/>
<circle cx="1093.3" cy="409.0" r="3" fill="#c8343b"/>
<circle cx="1110.8" cy="406.7" r="3" fill="#c8343b"/>
<line x1="806.5" y1="579.3" x2="926.5" y2="579.3" stroke="#181818" stroke-width="3"/>
<path d="M800.5,579.3 L807.5,575.5 L807.5,583.1 Z" fill="#181818"/>
<path d="M932.5,579.3 L925.5,575.5 L925.5,583.1 Z" fill="#181818"/>
<line x1="941.3" y1="579.3" x2="1030.2" y2="579.3" stroke="#181818" stroke-width="3"/>
<path d="M935.3,579.3 L942.3,575.5 L942.3,583.1 Z" fill="#181818"/>
<path d="M1036.2,579.3 L1029.2,575.5 L1029.2,583.1 Z" fill="#181818"/>
<line x1="1046.0" y1="579.3" x2="1102.8" y2="579.3" stroke="#181818" stroke-width="3"/>
<path d="M1040.0,579.3 L1047.0,575.5 L1047.0,583.1 Z" fill="#181818"/>
<path d="M1108.8,579.3 L1101.8,575.5 L1101.8,583.1 Z" fill="#181818"/>
<line x1="1120.0" y1="579.3" x2="1247.0" y2="579.3" stroke="#181818" stroke-width="3"/>
<path d="M1114.0,579.3 L1121.0,575.5 L1121.0,583.1 Z" fill="#181818"/>
<path d="M1253.0,579.3 L1246.0,575.5 L1246.0,583.1 Z" fill="#181818"/>
<text x="867.2" y="562" class="rn" text-anchor="middle">I</text>
<text x="983.6" y="562" class="rn" text-anchor="middle">II</text>
<text x="1073.6" y="562" class="rn" text-anchor="middle">III</text>
<text x="1175.5" y="562" class="rn" text-anchor="middle">IV</text>
<text x="713.3" y="346.7" class="tl" text-anchor="end">20</text>
<text x="713.3" y="391.8" class="tl" text-anchor="end">10</text>
<text x="713.3" y="436.8" class="tl" text-anchor="end">0</text>
<text x="713.3" y="481.9" class="tl" text-anchor="end">-10</text>
<text x="713.3" y="526.9" class="tl" text-anchor="end">-20</text>
<text x="713.3" y="572.0" class="tl" text-anchor="end">-30</text>
<text x="713.3" y="617.0" class="tl" text-anchor="end">-40</text>
<text x="719.3" y="633" class="tl" text-anchor="middle">95</text>
<text x="1255.0" y="633" class="tl" text-anchor="middle">115</text>
<text x="799.5" y="629" class="bl" text-anchor="middle">98.0</text>
<text x="933.9" y="629" class="bl" text-anchor="middle">103.0</text>
<text x="1038.0" y="629" class="bl" text-anchor="middle">106.9</text>
<text x="1111.1" y="629" class="bl" text-anchor="middle">109.6</text>
<rect x="197.0" y="672.4" width="149.0" height="269.6" fill="#c3daf0"/>
<rect x="391.2" y="672.4" width="35.6" height="269.6" fill="#e7e7e7"/>
<line x1="273.2" y1="673.0" x2="273.2" y2="942.0" stroke="#b5c8da" stroke-width="1.5"/>
<line x1="299.7" y1="673.0" x2="299.7" y2="942.0" stroke="#b5c8da" stroke-width="1.5"/>
<line x1="405.4" y1="673.0" x2="405.4" y2="942.0" stroke="#cfcfcf" stroke-width="1"/>
<line x1="417.2" y1="673.0" x2="417.2" y2="942.0" stroke="#cfcfcf" stroke-width="1"/>
<line x1="64.5" y1="834.0" x2="600.0" y2="834.0" stroke="#b8b8e8" stroke-width="1.2"/>
<line x1="64.5" y1="672.4" x2="69.5" y2="672.4" stroke="#cfcfcf" stroke-width="1.2"/>
<line x1="64.5" y1="683.2" x2="67.5" y2="683.2" stroke="#cfcfcf" stroke-width="1.2"/>
<line x1="64.5" y1="694.0" x2="67.5" y2="694.0" stroke="#cfcfcf" stroke-width="1.2"/>
<line x1="64.5" y1="704.8" x2="67.5" y2="704.8" stroke="#cfcfcf" stroke-width="1.2"/>
<line x1="64.5" y1="715.5" x2="67.5" y2="715.5" stroke="#cfcfcf" stroke-width="1.2"/>
<line x1="64.5" y1="726.3" x2="69.5" y2="726.3" stroke="#cfcfcf" stroke-width="1.2"/>
<line x1="64.5" y1="737.1" x2="67.5" y2="737.1" stroke="#cfcfcf" stroke-width="1.2"/>
<line x1="64.5" y1="747.9" x2="67.5" y2="747.9" stroke="#cfcfcf" stroke-width="1.2"/>
<line x1="64.5" y1="758.7" x2="67.5" y2="758.7" stroke="#cfcfcf" stroke-width="1.2"/>
<line x1="64.5" y1="769.5" x2="67.5" y2="769.5" stroke="#cfcfcf" stroke-width="1.2"/>
<line x1="64.5" y1="780.2" x2="69.5" y2="780.2" stroke="#cfcfcf" stroke-width="1.2"/>
<line x1="64.5" y1="791.0" x2="67.5" y2="791.0" stroke="#cfcfcf" stroke-width="1.2"/>
<line x1="64.5" y1="801.8" x2="67.5" y2="801.8" stroke="#cfcfcf" stroke-width="1.2"/>
<line x1="64.5" y1="812.6" x2="67.5" y2="812.6" stroke="#cfcfcf" stroke-width="1.2"/>
<line x1="64.5" y1="823.4" x2="67.5" y2="823.4" stroke="#cfcfcf" stroke-width="1.2"/>
<line x1="64.5" y1="834.2" x2="69.5" y2="834.2" stroke="#cfcfcf" stroke-width="1.2"/>
<line x1="64.5" y1="844.9" x2="67.5" y2="844.9" stroke="#cfcfcf" stroke-width="1.2"/>
<line x1="64.5" y1="855.7" x2="67.5" y2="855.7" stroke="#cfcfcf" stroke-width="1.2"/>
<line x1="64.5" y1="866.5" x2="67.5" y2="866.5" stroke="#cfcfcf" stroke-width="1.2"/>
<line x1="64.5" y1="877.3" x2="67.5" y2="877.3" stroke="#cfcfcf" stroke-width="1.2"/>
<line x1="64.5" y1="888.1" x2="69.5" y2="888.1" stroke="#cfcfcf" stroke-width="1.2"/>
<line x1="64.5" y1="898.9" x2="67.5" y2="898.9" stroke="#cfcfcf" stroke-width="1.2"/>
<line x1="64.5" y1="909.6" x2="67.5" y2="909.6" stroke="#cfcfcf" stroke-width="1.2"/>
<line x1="64.5" y1="920.4" x2="67.5" y2="920.4" stroke="#cfcfcf" stroke-width="1.2"/>
<line x1="64.5" y1="931.2" x2="67.5" y2="931.2" stroke="#cfcfcf" stroke-width="1.2"/>
<line x1="64.5" y1="942.0" x2="69.5" y2="942.0" stroke="#cfcfcf" stroke-width="1.2"/>
<line x1="64.5" y1="942.0" x2="64.5" y2="937.0" stroke="#cfcfcf" stroke-width="1.2"/>
<line x1="91.3" y1="942.0" x2="91.3" y2="939.0" stroke="#cfcfcf" stroke-width="1.2"/>
<line x1="118.0" y1="942.0" x2="118.0" y2="939.0" stroke="#cfcfcf" stroke-width="1.2"/>
<line x1="144.8" y1="942.0" x2="144.8" y2="939.0" stroke="#cfcfcf" stroke-width="1.2"/>
<line x1="171.6" y1="942.0" x2="171.6" y2="939.0" stroke="#cfcfcf" stroke-width="1.2"/>
<line x1="198.4" y1="942.0" x2="198.4" y2="937.0" stroke="#cfcfcf" stroke-width="1.2"/>
<line x1="225.2" y1="942.0" x2="225.2" y2="939.0" stroke="#cfcfcf" stroke-width="1.2"/>
<line x1="251.9" y1="942.0" x2="251.9" y2="939.0" stroke="#cfcfcf" stroke-width="1.2"/>
<line x1="278.7" y1="942.0" x2="278.7" y2="939.0" stroke="#cfcfcf" stroke-width="1.2"/>
<line x1="305.5" y1="942.0" x2="305.5" y2="939.0" stroke="#cfcfcf" stroke-width="1.2"/>
<line x1="332.2" y1="942.0" x2="332.2" y2="937.0" stroke="#cfcfcf" stroke-width="1.2"/>
<line x1="359.0" y1="942.0" x2="359.0" y2="939.0" stroke="#cfcfcf" stroke-width="1.2"/>
<line x1="385.8" y1="942.0" x2="385.8" y2="939.0" stroke="#cfcfcf" stroke-width="1.2"/>
<line x1="412.6" y1="942.0" x2="412.6" y2="939.0" stroke="#cfcfcf" stroke-width="1.2"/>
<line x1="439.4" y1="942.0" x2="439.4" y2="939.0" stroke="#cfcfcf" stroke-width="1.2"/>
<line x1="466.1" y1="942.0" x2="466.1" y2="937.0" stroke="#cfcfcf" stroke-width="1.2"/>
<line x1="492.9" y1="942.0" x2="492.9" y2="939.0" stroke="#cfcfcf" stroke-width="1.2"/>
<line x1="519.7" y1="942.0" x2="519.7" y2="939.0" stroke="#cfcfcf" stroke-width="1.2"/>
<line x1="546.5" y1="942.0" x2="546.5" y2="939.0" stroke="#cfcfcf" stroke-width="1.2"/>
<line x1="573.2" y1="942.0" x2="573.2" y2="939.0" stroke="#cfcfcf" stroke-width="1.2"/>
<line x1="600.0" y1="942.0" x2="600.0" y2="937.0" stroke="#cfcfcf" stroke-width="1.2"/>
<rect x="64.5" y="672.4" width="535.5" height="269.6" fill="none" stroke="#dedede" stroke-width="2"/>
<path d="M64.50,834.80 C81.27,835.17 100.57,835.04 114.80,835.90 C125.32,836.53 134.34,836.72 142.20,838.60 C148.48,840.11 153.94,841.97 158.60,845.00 C162.97,847.84 166.52,851.49 169.60,855.90 C173.07,860.86 175.40,867.18 177.80,873.70 C180.54,881.16 182.50,890.85 184.70,898.40 C186.57,904.83 188.65,916.33 190.10,916.20 C192.16,916.01 193.08,892.21 194.20,879.20 C195.44,864.76 196.18,849.01 197.00,833.40 C197.86,817.08 198.20,795.12 199.20,783.30 C199.75,776.79 200.22,768.23 201.10,768.20 C202.13,768.16 203.73,781.45 205.20,788.80 C206.90,797.28 207.40,812.23 210.70,816.20 C212.22,818.03 214.17,818.35 216.20,818.40 C218.65,818.46 221.86,814.96 224.40,815.60 C227.40,816.35 229.70,821.52 232.60,824.40 C235.62,827.39 238.71,832.71 242.20,833.20 C245.59,833.68 249.59,828.13 253.20,827.70 C256.41,827.32 259.50,828.84 262.70,829.90 C266.17,831.05 269.29,832.75 273.20,834.50 C278.17,836.72 285.43,842.86 290.10,842.20 C293.95,841.66 297.00,837.30 299.70,834.00 C302.56,830.50 303.99,822.52 306.60,821.60 C308.27,821.01 310.24,824.45 312.00,823.80 C315.34,822.57 317.89,805.58 321.60,805.20 C325.16,804.84 329.56,815.44 333.70,820.20 C337.70,824.79 341.40,830.22 346.00,833.30 C350.16,836.08 354.93,838.87 359.70,838.50 C365.34,838.07 372.60,833.55 377.50,828.40 C383.34,822.26 387.64,811.84 390.60,802.40 C393.77,792.32 393.89,782.92 395.30,769.50 C397.51,748.57 399.41,688.78 400.80,688.80 C402.07,688.82 402.75,732.61 403.50,755.80 C404.31,780.83 404.72,806.54 405.40,833.90 C406.15,864.20 407.02,929.70 407.80,929.70 C408.41,929.70 408.79,886.02 409.60,872.00 C410.06,863.94 410.15,857.93 411.20,853.00 C411.90,849.71 413.08,847.90 414.00,845.00 C415.08,841.62 415.49,836.79 417.20,833.90 C418.60,831.52 421.12,828.29 422.70,828.40 C424.06,828.49 425.10,830.94 426.20,833.00 C427.94,836.26 427.77,845.51 430.90,846.70 C434.62,848.11 442.22,838.01 448.70,836.60 C455.41,835.14 462.91,838.81 470.60,838.50 C479.24,838.15 485.93,834.91 498.00,833.90 C521.05,831.98 565.53,833.90 599.30,833.90" fill="none" stroke="#2f2fbd" stroke-width="2.5" stroke-linejoin="round" stroke-linecap="round"/>
<circle cx="197.0" cy="833.4" r="3" fill="#2f2fbd"/>
<circle cx="273.2" cy="834.5" r="3" fill="#2f2fbd"/>
<circle cx="299.7" cy="834.0" r="3" fill="#2f2fbd"/>
<circle cx="346.0" cy="833.3" r="3.5" fill="#2f2fbd"/>
<circle cx="390.6" cy="802.4" r="3.5" fill="#2f2fbd"/>
<circle cx="405.4" cy="833.9" r="3" fill="#2f2fbd"/>
<circle cx="417.2" cy="833.9" r="3" fill="#2f2fbd"/>
<circle cx="426.2" cy="833.0" r="3" fill="#2f2fbd"/>
<line x1="71.5" y1="683.3" x2="189.6" y2="683.3" stroke="#181818" stroke-width="3"/>
<path d="M65.5,683.3 L72.5,679.5 L72.5,687.1 Z" fill="#181818"/>
<path d="M195.6,683.3 L188.6,679.5 L188.6,687.1 Z" fill="#181818"/>
<line x1="205.2" y1="683.3" x2="339.0" y2="683.3" stroke="#181818" stroke-width="3"/>
<path d="M199.2,683.3 L206.2,679.5 L206.2,687.1 Z" fill="#181818"/>
<path d="M345.0,683.3 L338.0,679.5 L338.0,687.1 Z" fill="#181818"/>
<line x1="354.8" y1="683.3" x2="382.5" y2="683.3" stroke="#181818" stroke-width="3"/>
<path d="M348.8,683.3 L355.8,679.5 L355.8,687.1 Z" fill="#181818"/>
<path d="M388.5,683.3 L381.5,679.5 L381.5,687.1 Z" fill="#181818"/>
<line x1="398.6" y1="683.3" x2="591.9" y2="683.3" stroke="#181818" stroke-width="3"/>
<path d="M392.6,683.3 L399.6,679.5 L399.6,687.1 Z" fill="#181818"/>
<path d="M597.9,683.3 L590.9,679.5 L590.9,687.1 Z" fill="#181818"/>
<g transform="translate(143.5,728.0) rotate(45)">
<text x="0" y="-2.2" class="dg" text-anchor="middle">Li</text>
<text x="0" y="14.8" class="dg" text-anchor="middle">Deintercalation</text>
</g>
<g transform="translate(283.5,725.0) rotate(45)">
<text x="0" y="-2.2" class="dg" text-anchor="middle">SEI</text>
<text x="0" y="14.8" class="dg" text-anchor="middle">Decomposition</text>
</g>
<g transform="translate(372.0,719.5) rotate(45)">
<text x="0" y="-2.2" class="dg" text-anchor="middle">NCA</text>
<text x="0" y="14.8" class="dg" text-anchor="middle">Breakdown</text>
</g>
<g transform="translate(509.5,721.0) rotate(45)">
<text x="0" y="-2.2" class="dg" text-anchor="middle">Copper</text>
<text x="0" y="14.8" class="dg" text-anchor="middle">Dissolution</text>
</g>
<text x="58.5" y="679.4" class="tl" text-anchor="end">3</text>
<text x="58.5" y="733.3" class="tl" text-anchor="end">2</text>
<text x="58.5" y="787.2" class="tl" text-anchor="end">1</text>
<text x="58.5" y="841.2" class="tl" text-anchor="end">0</text>
<text x="58.5" y="895.1" class="tl" text-anchor="end">-1</text>
<text x="58.5" y="949.0" class="tl" text-anchor="end">-2</text>
<text x="65.5" y="965.0" class="tl" text-anchor="middle">95</text>
<text x="199.4" y="965.0" class="tl" text-anchor="middle">100</text>
<text x="333.2" y="965.0" class="tl" text-anchor="middle">105</text>
<text x="467.1" y="965.0" class="tl" text-anchor="middle">110</text>
<text x="601.0" y="965.0" class="tl" text-anchor="middle">115</text>
<rect x="798.2" y="672.4" width="135.0" height="269.6" fill="#c3daf0"/>
<rect x="1038.0" y="672.4" width="72.9" height="269.6" fill="#e7e7e7"/>
<line x1="868.8" y1="673.0" x2="868.8" y2="942.0" stroke="#b5c8da" stroke-width="1.5"/>
<line x1="898.9" y1="673.0" x2="898.9" y2="942.0" stroke="#b5c8da" stroke-width="1.5"/>
<line x1="1038.0" y1="673.0" x2="1038.0" y2="942.0" stroke="#b8b8b8" stroke-width="1"/>
<line x1="1082.7" y1="673.0" x2="1082.7" y2="942.0" stroke="#c0c0c0" stroke-width="1"/>
<line x1="1092.8" y1="673.0" x2="1092.8" y2="942.0" stroke="#c0c0c0" stroke-width="1"/>
<line x1="719.3" y1="833.9" x2="1255.0" y2="833.9" stroke="#b8b8e8" stroke-width="1.2"/>
<line x1="719.3" y1="672.4" x2="724.3" y2="672.4" stroke="#cfcfcf" stroke-width="1.2"/>
<line x1="719.3" y1="683.2" x2="722.3" y2="683.2" stroke="#cfcfcf" stroke-width="1.2"/>
<line x1="719.3" y1="694.0" x2="722.3" y2="694.0" stroke="#cfcfcf" stroke-width="1.2"/>
<line x1="719.3" y1="704.8" x2="722.3" y2="704.8" stroke="#cfcfcf" stroke-width="1.2"/>
<line x1="719.3" y1="715.5" x2="722.3" y2="715.5" stroke="#cfcfcf" stroke-width="1.2"/>
<line x1="719.3" y1="726.3" x2="724.3" y2="726.3" stroke="#cfcfcf" stroke-width="1.2"/>
<line x1="719.3" y1="737.1" x2="722.3" y2="737.1" stroke="#cfcfcf" stroke-width="1.2"/>
<line x1="719.3" y1="747.9" x2="722.3" y2="747.9" stroke="#cfcfcf" stroke-width="1.2"/>
<line x1="719.3" y1="758.7" x2="722.3" y2="758.7" stroke="#cfcfcf" stroke-width="1.2"/>
<line x1="719.3" y1="769.5" x2="722.3" y2="769.5" stroke="#cfcfcf" stroke-width="1.2"/>
<line x1="719.3" y1="780.2" x2="724.3" y2="780.2" stroke="#cfcfcf" stroke-width="1.2"/>
<line x1="719.3" y1="791.0" x2="722.3" y2="791.0" stroke="#cfcfcf" stroke-width="1.2"/>
<line x1="719.3" y1="801.8" x2="722.3" y2="801.8" stroke="#cfcfcf" stroke-width="1.2"/>
<line x1="719.3" y1="812.6" x2="722.3" y2="812.6" stroke="#cfcfcf" stroke-width="1.2"/>
<line x1="719.3" y1="823.4" x2="722.3" y2="823.4" stroke="#cfcfcf" stroke-width="1.2"/>
<line x1="719.3" y1="834.2" x2="724.3" y2="834.2" stroke="#cfcfcf" stroke-width="1.2"/>
<line x1="719.3" y1="844.9" x2="722.3" y2="844.9" stroke="#cfcfcf" stroke-width="1.2"/>
<line x1="719.3" y1="855.7" x2="722.3" y2="855.7" stroke="#cfcfcf" stroke-width="1.2"/>
<line x1="719.3" y1="866.5" x2="722.3" y2="866.5" stroke="#cfcfcf" stroke-width="1.2"/>
<line x1="719.3" y1="877.3" x2="722.3" y2="877.3" stroke="#cfcfcf" stroke-width="1.2"/>
<line x1="719.3" y1="888.1" x2="724.3" y2="888.1" stroke="#cfcfcf" stroke-width="1.2"/>
<line x1="719.3" y1="898.9" x2="722.3" y2="898.9" stroke="#cfcfcf" stroke-width="1.2"/>
<line x1="719.3" y1="909.6" x2="722.3" y2="909.6" stroke="#cfcfcf" stroke-width="1.2"/>
<line x1="719.3" y1="920.4" x2="722.3" y2="920.4" stroke="#cfcfcf" stroke-width="1.2"/>
<line x1="719.3" y1="931.2" x2="722.3" y2="931.2" stroke="#cfcfcf" stroke-width="1.2"/>
<line x1="719.3" y1="942.0" x2="724.3" y2="942.0" stroke="#cfcfcf" stroke-width="1.2"/>
<line x1="719.3" y1="942.0" x2="719.3" y2="937.0" stroke="#cfcfcf" stroke-width="1.2"/>
<line x1="746.1" y1="942.0" x2="746.1" y2="939.0" stroke="#cfcfcf" stroke-width="1.2"/>
<line x1="772.9" y1="942.0" x2="772.9" y2="939.0" stroke="#cfcfcf" stroke-width="1.2"/>
<line x1="799.7" y1="942.0" x2="799.7" y2="939.0" stroke="#cfcfcf" stroke-width="1.2"/>
<line x1="826.4" y1="942.0" x2="826.4" y2="939.0" stroke="#cfcfcf" stroke-width="1.2"/>
<line x1="853.2" y1="942.0" x2="853.2" y2="937.0" stroke="#cfcfcf" stroke-width="1.2"/>
<line x1="880.0" y1="942.0" x2="880.0" y2="939.0" stroke="#cfcfcf" stroke-width="1.2"/>
<line x1="906.8" y1="942.0" x2="906.8" y2="939.0" stroke="#cfcfcf" stroke-width="1.2"/>
<line x1="933.6" y1="942.0" x2="933.6" y2="939.0" stroke="#cfcfcf" stroke-width="1.2"/>
<line x1="960.4" y1="942.0" x2="960.4" y2="939.0" stroke="#cfcfcf" stroke-width="1.2"/>
<line x1="987.1" y1="942.0" x2="987.1" y2="937.0" stroke="#cfcfcf" stroke-width="1.2"/>
<line x1="1013.9" y1="942.0" x2="1013.9" y2="939.0" stroke="#cfcfcf" stroke-width="1.2"/>
<line x1="1040.7" y1="942.0" x2="1040.7" y2="939.0" stroke="#cfcfcf" stroke-width="1.2"/>
<line x1="1067.5" y1="942.0" x2="1067.5" y2="939.0" stroke="#cfcfcf" stroke-width="1.2"/>
<line x1="1094.3" y1="942.0" x2="1094.3" y2="939.0" stroke="#cfcfcf" stroke-width="1.2"/>
<line x1="1121.1" y1="942.0" x2="1121.1" y2="937.0" stroke="#cfcfcf" stroke-width="1.2"/>
<line x1="1147.9" y1="942.0" x2="1147.9" y2="939.0" stroke="#cfcfcf" stroke-width="1.2"/>
<line x1="1174.6" y1="942.0" x2="1174.6" y2="939.0" stroke="#cfcfcf" stroke-width="1.2"/>
<line x1="1201.4" y1="942.0" x2="1201.4" y2="939.0" stroke="#cfcfcf" stroke-width="1.2"/>
<line x1="1228.2" y1="942.0" x2="1228.2" y2="939.0" stroke="#cfcfcf" stroke-width="1.2"/>
<line x1="1255.0" y1="942.0" x2="1255.0" y2="937.0" stroke="#cfcfcf" stroke-width="1.2"/>
<rect x="719.3" y="672.4" width="535.7" height="269.6" fill="none" stroke="#dedede" stroke-width="2"/>
<path d="M719.60,837.40 C725.53,837.77 731.25,837.25 737.40,838.50 C744.42,839.92 753.04,842.98 759.30,846.20 C764.62,848.93 768.78,853.12 773.00,855.80 C776.43,857.98 779.68,861.33 782.60,861.30 C785.07,861.27 787.52,859.41 789.40,857.20 C791.96,854.19 793.34,847.68 794.90,843.50 C796.19,840.03 796.61,836.86 798.20,833.90 C799.80,830.92 801.99,827.77 804.50,825.70 C806.87,823.75 809.81,823.49 812.70,821.60 C816.52,819.11 821.06,811.29 825.00,811.40 C828.82,811.51 832.21,818.17 836.00,821.60 C839.97,825.20 844.34,831.13 848.30,832.50 C851.10,833.47 853.51,831.77 856.50,832.00 C860.20,832.29 864.25,833.64 868.80,834.70 C874.50,836.02 882.58,839.92 888.00,839.40 C892.23,839.00 895.64,837.28 898.90,834.40 C903.21,830.59 905.38,820.98 909.90,816.60 C913.83,812.79 920.26,808.01 923.60,808.70 C926.15,809.23 927.62,812.91 929.10,816.10 C931.18,820.59 931.77,828.23 933.20,833.90 C934.52,839.13 935.71,845.08 937.30,848.90 C938.37,851.47 939.18,854.83 940.80,855.00 C943.20,855.25 946.64,846.66 951.00,843.50 C956.07,839.82 963.08,837.24 970.10,835.20 C978.03,832.90 987.75,832.11 996.40,831.10 C1004.74,830.13 1014.66,831.00 1021.10,829.20 C1025.62,827.94 1029.08,823.64 1032.00,823.70 C1034.00,823.74 1035.24,825.61 1037.00,826.50 C1038.89,827.45 1040.72,828.97 1043.00,829.20 C1045.79,829.48 1048.90,827.08 1052.60,827.00 C1057.62,826.89 1065.07,828.86 1070.40,830.30 C1074.93,831.52 1079.47,833.17 1082.70,834.70 C1084.96,835.77 1086.47,838.07 1088.20,838.00 C1089.82,837.93 1090.90,835.51 1092.80,834.70 C1095.23,833.66 1098.87,833.05 1101.90,833.00 C1104.90,832.95 1107.72,833.85 1110.90,834.40 C1114.50,835.02 1117.93,836.26 1122.40,836.60 C1128.51,837.07 1135.36,836.05 1144.30,835.80 C1158.43,835.40 1180.76,834.80 1199.00,834.70 C1217.26,834.60 1235.53,835.03 1253.80,835.20" fill="none" stroke="#2f2fbd" stroke-width="2.5" stroke-linejoin="round" stroke-linecap="round"/>
<circle cx="798.2" cy="833.9" r="3" fill="#2f2fbd"/>
<circle cx="868.8" cy="834.7" r="3" fill="#2f2fbd"/>
<circle cx="898.9" cy="834.4" r="3" fill="#2f2fbd"/>
<circle cx="933.2" cy="833.9" r="4" fill="#2f2fbd"/>
<circle cx="1037.0" cy="826.5" r="3.5" fill="#2f2fbd"/>
<circle cx="1082.7" cy="834.7" r="3" fill="#2f2fbd"/>
<circle cx="1092.8" cy="834.7" r="3" fill="#2f2fbd"/>
<circle cx="1110.9" cy="834.4" r="3" fill="#2f2fbd"/>
<line x1="729.1" y1="684.1" x2="790.3" y2="684.1" stroke="#181818" stroke-width="3"/>
<path d="M723.1,684.1 L730.1,680.3 L730.1,687.9 Z" fill="#181818"/>
<path d="M796.3,684.1 L789.3,680.3 L789.3,687.9 Z" fill="#181818"/>
<line x1="807.7" y1="684.1" x2="925.8" y2="684.1" stroke="#181818" stroke-width="3"/>
<path d="M801.7,684.1 L808.7,680.3 L808.7,687.9 Z" fill="#181818"/>
<path d="M931.8,684.1 L924.8,680.3 L924.8,687.9 Z" fill="#181818"/>
<line x1="943.8" y1="684.1" x2="1028.8" y2="684.1" stroke="#181818" stroke-width="3"/>
<path d="M937.8,684.1 L944.8,680.3 L944.8,687.9 Z" fill="#181818"/>
<path d="M1034.8,684.1 L1027.8,680.3 L1027.8,687.9 Z" fill="#181818"/>
<line x1="1044.9" y1="684.1" x2="1247.3" y2="684.1" stroke="#181818" stroke-width="3"/>
<path d="M1038.9,684.1 L1045.9,680.3 L1045.9,687.9 Z" fill="#181818"/>
<path d="M1253.3,684.1 L1246.3,680.3 L1246.3,687.9 Z" fill="#181818"/>
<g transform="translate(770.0,729.5) rotate(45)">
<text x="0" y="-2.2" class="dg" text-anchor="middle">Li</text>
<text x="0" y="14.8" class="dg" text-anchor="middle">Deintercalation</text>
</g>
<g transform="translate(878.0,722.0) rotate(45)">
<text x="0" y="-2.2" class="dg" text-anchor="middle">SEI</text>
<text x="0" y="14.8" class="dg" text-anchor="middle">Decomposition</text>
</g>
<g transform="translate(994.5,720.5) rotate(45)">
<text x="0" y="-2.2" class="dg" text-anchor="middle">NCA</text>
<text x="0" y="14.8" class="dg" text-anchor="middle">Breakdown</text>
</g>
<g transform="translate(1154.3,722.5) rotate(45)">
<text x="0" y="-2.2" class="dg" text-anchor="middle">Copper</text>
<text x="0" y="14.8" class="dg" text-anchor="middle">Dissolution</text>
</g>
<text x="713.3" y="679.4" class="tl" text-anchor="end">3</text>
<text x="713.3" y="733.3" class="tl" text-anchor="end">2</text>
<text x="713.3" y="787.2" class="tl" text-anchor="end">1</text>
<text x="713.3" y="841.2" class="tl" text-anchor="end">0</text>
<text x="713.3" y="895.1" class="tl" text-anchor="end">-1</text>
<text x="713.3" y="949.0" class="tl" text-anchor="end">-2</text>
<text x="720.3" y="965.0" class="tl" text-anchor="middle">95</text>
<text x="854.2" y="965.0" class="tl" text-anchor="middle">100</text>
<text x="988.1" y="965.0" class="tl" text-anchor="middle">105</text>
<text x="1122.1" y="965.0" class="tl" text-anchor="middle">110</text>
<text x="1256.0" y="965.0" class="tl" text-anchor="middle">115</text>
<text x="0" y="0" class="yl" text-anchor="middle" transform="translate(28.0,142.5) rotate(-90)">Voltage [V]</text>
<text x="0" y="0" class="yl" text-anchor="middle" transform="translate(28.0,475.0) rotate(-90)">dV/dQ [V/Ah]</text>
<text x="0" y="0" class="yl" text-anchor="middle" transform="translate(28.0,807.0) rotate(-90)">d<tspan dy="-11" font-size="13" stroke="#222" stroke-width="0.5">2</tspan><tspan dy="11">V/dQ</tspan><tspan dy="-11" font-size="13" stroke="#222" stroke-width="0.5">2</tspan><tspan dy="11"> [kV/(Ah)</tspan><tspan dy="-11" font-size="13" stroke="#222" stroke-width="0.5">2</tspan><tspan dy="11">]</tspan></text>
<text x="0" y="0" class="yl" text-anchor="middle" transform="translate(682.8,142.5) rotate(-90)">Voltage [V]</text>
<text x="0" y="0" class="yl" text-anchor="middle" transform="translate(682.8,475.0) rotate(-90)">dV/dQ [V/Ah]</text>
<text x="0" y="0" class="yl" text-anchor="middle" transform="translate(682.8,807.0) rotate(-90)">d<tspan dy="-11" font-size="13" stroke="#222" stroke-width="0.5">2</tspan><tspan dy="11">V/dQ</tspan><tspan dy="-11" font-size="13" stroke="#222" stroke-width="0.5">2</tspan><tspan dy="11"> [kV/(Ah)</tspan><tspan dy="-11" font-size="13" stroke="#222" stroke-width="0.5">2</tspan><tspan dy="11">]</tspan></text>
<text x="340.8" y="1004.5" class="xl" text-anchor="middle">DOD [%]</text>
<text x="997" y="1004.5" class="xl" text-anchor="middle">DOD [%]</text>
<text x="313" y="1052.5" class="cap" text-anchor="middle">(a) C/10 - rate</text>
<text x="959.8" y="1052.5" class="cap" text-anchor="middle">(b) 1C - rate</text>
</g>
</svg></body></html>
